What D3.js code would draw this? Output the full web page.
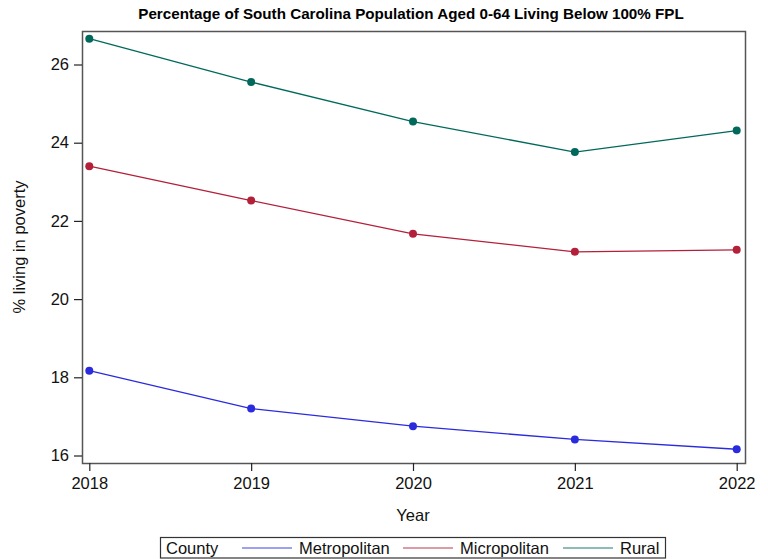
<!DOCTYPE html>
<html>
<head>
<meta charset="utf-8">
<script src="https://cdn.jsdelivr.net/npm/d3@7"></script>
<style>
  html, body { margin: 0; padding: 0; background: #fff; }
  svg { display: block; font-family: "Liberation Sans", Arial, sans-serif; }
</style>
</head>
<body>
<svg id="chart" width="768" height="559"></svg>
<script>
// Survey years and poverty rates (% of population aged 0-64 below 100% FPL)
const years = [2018, 2019, 2020, 2021, 2022];
const metropolitan = [18.17, 17.20, 16.75, 16.41, 16.16];
const micropolitan = [23.40, 22.52, 21.67, 21.21, 21.26];
const rural = [26.66, 25.55, 24.54, 23.76, 24.31];
const seriesNames = ["Metropolitan", "Micropolitan", "Rural"];
const seriesColors = ["#2b2bde", "#b3203a", "#00695c"];
const yTicks = [16, 18, 20, 22, 24, 26];

const series = [metropolitan, micropolitan, rural].map((vals, i) => ({
  name: seriesNames[i],
  color: seriesColors[i],
  points: years.map((y, j) => ({ year: y, value: vals[j] }))
}));

const svg = d3.select("#chart");
const frame = { left: 82, right: 745, top: 31, bottom: 463 };
const fs = 16.5;

const x = d3.scaleLinear().domain([2018, 2022]).range([89.3, 736.7]);
const y = d3.scaleLinear().domain([16, 26]).range([455.5, 64.5]);

// Title
svg.append("text")
  .attr("x", 411).attr("y", 19)
  .attr("text-anchor", "middle")
  .attr("font-size", 15.2).attr("font-weight", "bold")
  .text("Percentage of South Carolina Population Aged 0-64 Living Below 100% FPL");

// Plot frame
svg.append("rect")
  .attr("x", frame.left + 0.5).attr("y", frame.top + 0.5)
  .attr("width", frame.right - frame.left).attr("height", frame.bottom - frame.top)
  .attr("fill", "none").attr("stroke", "#555").attr("stroke-width", 1.5);

// Axes
const yAxis = svg.append("g")
  .attr("transform", `translate(${frame.left},0)`)
  .call(d3.axisLeft(y).tickValues(yTicks).tickFormat(d3.format("d")).tickSize(8).tickPadding(5));
const xAxis = svg.append("g")
  .attr("transform", `translate(0,${frame.bottom})`)
  .call(d3.axisBottom(x).tickValues(years).tickFormat(d3.format("d")).tickSize(8).tickPadding(6));
[yAxis, xAxis].forEach(ax => {
  ax.select(".domain").remove();
  ax.selectAll(".tick line").attr("stroke", "#222").attr("stroke-width", 1.2);
  ax.selectAll(".tick text").attr("font-size", fs).attr("fill", "#111")
    .attr("font-family", "Liberation Sans, Arial, sans-serif");
});

// Axis titles
svg.append("text")
  .attr("x", 413).attr("y", 521)
  .attr("text-anchor", "middle").attr("font-size", fs).attr("fill", "#111")
  .text("Year");
svg.append("text")
  .attr("transform", "translate(25,247) rotate(-90)")
  .attr("text-anchor", "middle").attr("font-size", fs).attr("fill", "#111")
  .text("% living in poverty");

// Lines and markers
const line = d3.line().x(d => x(d.year)).y(d => y(d.value));
const g = svg.append("g");
series.forEach(s => {
  g.append("path")
    .datum(s.points)
    .attr("d", line)
    .attr("fill", "none")
    .attr("stroke", s.color)
    .attr("stroke-width", 1.3);
  g.selectAll(null)
    .data(s.points)
    .enter().append("circle")
    .attr("cx", d => x(d.year))
    .attr("cy", d => y(d.value))
    .attr("r", 4)
    .attr("fill", s.color);
});

// Legend
const legend = svg.append("g");
legend.append("rect")
  .attr("x", 160.5).attr("y", 537.5).attr("width", 505).attr("height", 20.5)
  .attr("fill", "#fff").attr("stroke", "#333").attr("stroke-width", 1.2);
legend.append("text")
  .attr("x", 166).attr("y", 554).attr("font-size", fs).attr("fill", "#111")
  .text("County");
const legendX = [242, 403, 563];
series.forEach((s, i) => {
  legend.append("line")
    .attr("x1", legendX[i]).attr("x2", legendX[i] + 50)
    .attr("y1", 548).attr("y2", 548)
    .attr("stroke", s.color).attr("stroke-opacity", 0.6).attr("stroke-width", 1.5);
  legend.append("text")
    .attr("x", legendX[i] + 57).attr("y", 554)
    .attr("font-size", fs).attr("fill", "#111")
    .text(s.name);
});
</script>
</body>
</html>
